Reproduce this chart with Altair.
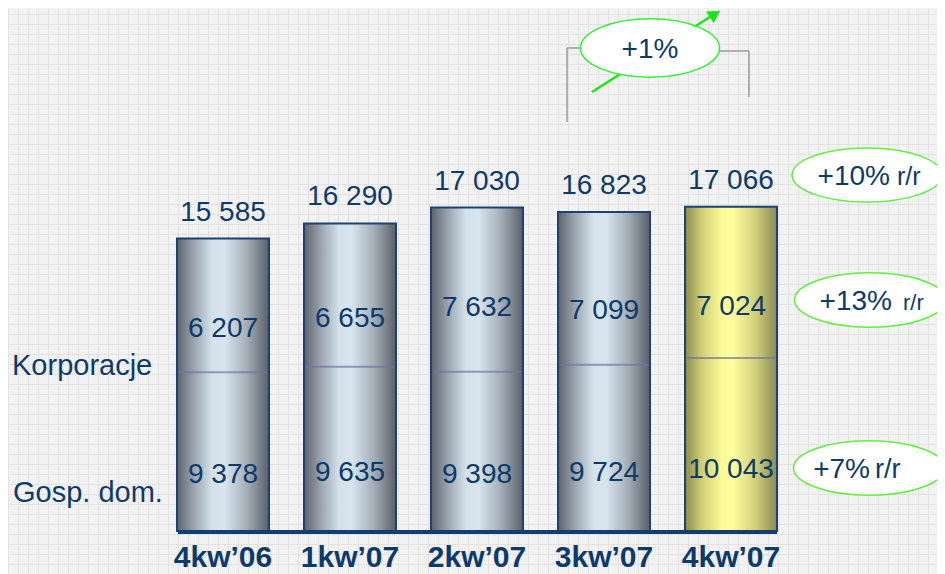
import altair as alt
import pandas as pd

# ---------------- data ----------------
quarters = ["4kw’06", "1kw’07", "2kw’07", "3kw’07", "4kw’07"]
households = [9378, 9635, 9398, 9724, 10043]
corporates = [6207, 6655, 7632, 7099, 7024]
totals = [15585, 16290, 17030, 16823, 17066]
segment_names = ["Korporacje", "Gosp. dom."]
yoy_main = ["+10%", "+13%", "+7%"]
yoy_suffix = "r/r"
qoq_label = "+1%"

NAVY = "#0d3a6a"
FONT = "Liberation Sans"
GREEN = "#5ff03f"
GRIDC = "#e2e2e2"
W, H = 929, 566          # whole drawing area
PLOT_B = 523             # baseline of the bars inside it
Y0, YMAX = 2000, 26300


def fmt(v):
    return f"{v:,}".replace(",", " ")


df = pd.DataFrame({
    "q": quarters,
    "hh": households,
    "corp": corporates,
    "total": totals,
    "hh_t": [fmt(v) for v in households],
    "corp_t": [fmt(v) for v in corporates],
    "total_t": [fmt(v) for v in totals],
    "current": [False, False, False, False, True],
})

GRAY = {"gradient": "linear", "x1": 0, "x2": 1, "y1": 0, "y2": 0,
        "stops": [{"offset": 0, "color": "#5c626b"},
                  {"offset": 0.18, "color": "#9aa4ae"},
                  {"offset": 0.38, "color": "#d3e1ea"},
                  {"offset": 0.52, "color": "#d8e5ee"},
                  {"offset": 0.76, "color": "#a4aeb7"},
                  {"offset": 1, "color": "#5a5f68"}]}
YELLOW = {"gradient": "linear", "x1": 0, "x2": 1, "y1": 0, "y2": 0,
          "stops": [{"offset": 0, "color": "#8b8b4e"},
                    {"offset": 0.18, "color": "#cfce78"},
                    {"offset": 0.4, "color": "#fbfb98"},
                    {"offset": 0.52, "color": "#fdfd9d"},
                    {"offset": 0.76, "color": "#d3d27c"},
                    {"offset": 1, "color": "#8a8a52"}]}

XSCALE = alt.Scale(type="band", domain=quarters, paddingInner=0.2756, paddingOuter=0,
                   range=[169, 769])


def X(show_axis=False):
    if show_axis:
        ax = alt.Axis(title=None, orient="bottom", domain=False, ticks=False, labelAngle=0,
                      labelFont=FONT, labelFontSize=30, labelFontWeight="bold",
                      labelColor=NAVY, labelPadding=11, grid=False, offset=PLOT_B - H)
    else:
        ax = None
    return alt.X("q:N", scale=XSCALE, axis=ax)


YSCALE = alt.Scale(domain=[Y0, YMAX], nice=False, zero=False, range=[PLOT_B, 0])


def Y(field):
    return alt.Y(field, type="quantitative", scale=YSCALE, axis=None)


base = alt.Chart(df)

# background graph-paper grid
gridbg = alt.Chart(pd.DataFrame({"g": [0]})).mark_point(opacity=0).encode(
    x=alt.X("g:Q", scale=alt.Scale(domain=[0, W], range=[0, W], nice=False),
            axis=alt.Axis(title=None, orient="bottom", labels=False, ticks=False,
                          domain=False, grid=True, gridColor=GRIDC, tickCount=90)),
    y=alt.Y("g:Q", scale=alt.Scale(domain=[0, H], range=[H, 0], nice=False),
            axis=alt.Axis(title=None, orient="left", labels=False, ticks=False,
                          domain=False, grid=True, gridColor=GRIDC, tickCount=55)))

bars_gray = base.transform_filter("!datum.current").mark_bar(
    color=GRAY, stroke="#1b4272", strokeWidth=2).encode(
    x=X(True), y=Y("total"), y2=alt.datum(Y0))
bars_yellow = base.transform_filter("datum.current").mark_bar(
    color=YELLOW, stroke="#1b4272", strokeWidth=2).encode(
    x=X(), y=Y("total"), y2=alt.datum(Y0))

dividers = base.mark_tick(color="#7474a6", thickness=2, size=88, orient="horizontal").encode(
    x=X(), y=Y("hh"))

baseline = alt.Chart(pd.DataFrame({"a": [0]})).mark_rule(
    color="#133d6c", strokeWidth=4).encode(
    x=alt.value(170), x2=alt.value(769), y=alt.value(PLOT_B + 1))

txt = dict(font=FONT, fontSize=28, color=NAVY, baseline="middle", align="center")
total_lab = base.mark_text(dy=-26, **txt).encode(x=X(), y=Y("total"), text="total_t:N")
corp_lab = base.transform_calculate(
    corp_pos=f"{Y0} + (datum.total - {Y0}) * 0.69").mark_text(**txt).encode(
    x=X(), y=Y("corp_pos"), text="corp_t:N")
hh_lab = base.transform_calculate(
    hh_pos=f"{Y0} + (datum.hh - {Y0}) * 0.35").mark_text(**txt).encode(
    x=X(), y=Y("hh_pos"), text="hh_t:N")


def deco_text(text, x, y, size, align="center", baseline="middle"):
    return alt.Chart(pd.DataFrame({"t": [text]})).mark_text(
        font=FONT, fontSize=size, color=NAVY, align=align, baseline=baseline).encode(
        text="t:N", x=alt.value(x), y=alt.value(y))


def deco_line(x1, y1, x2, y2, color, width):
    return alt.Chart(pd.DataFrame({"a": [0]})).mark_rule(
        color=color, strokeWidth=width).encode(
        x=alt.value(x1), x2=alt.value(x2), y=alt.value(y1), y2=alt.value(y2))


def ellipse(cx, cy, w, ratio, stroke=GREEN):
    path = f"M -1 0 A 1 {ratio} 0 1 1 1 0 A 1 {ratio} 0 1 1 -1 0 Z"
    return alt.Chart(pd.DataFrame({"a": [0]})).mark_point(
        shape=path, size=w * w, filled=True, fill="white", stroke=stroke,
        strokeWidth=1.5, opacity=1, fillOpacity=1).encode(
        x=alt.value(cx), y=alt.value(cy))


left_labels = [
    deco_text(segment_names[0], 4, 358, 29, align="left"),
    deco_text(segment_names[1], 5, 485, 29, align="left"),
]

# q/q annotation
qoq = [
    deco_line(559, 114, 559, 40, "#9a9a9a", 1.5),
    deco_line(559, 40, 576, 40, "#9a9a9a", 1.5),
    deco_line(708, 43, 741, 43, "#9a9a9a", 1.5),
    deco_line(741, 43, 741, 89, "#9a9a9a", 1.5),
    deco_line(584, 84, 705, 7, "#16e816", 2.5),
    alt.Chart(pd.DataFrame({"a": [0]})).mark_point(
        shape="triangle-up", angle=57, size=200, filled=True, color="#16e816", opacity=1).encode(
        x=alt.value(707), y=alt.value(6)),
    ellipse(642, 40, 139, 0.42, stroke="#33f033"),
    deco_text(qoq_label, 642, 42, 28),
]

# y/y annotations
yoy = [
    ellipse(859, 167, 150, 0.36),
    ellipse(862, 292, 151, 0.36),
    ellipse(861, 460, 151, 0.36),
    deco_text(yoy_main[0], 882, 177, 28, align="right", baseline="alphabetic"),
    deco_text(yoy_suffix, 889, 177, 25, align="left", baseline="alphabetic"),
    deco_text(yoy_main[1], 884, 302, 28, align="right", baseline="alphabetic"),
    deco_text(yoy_suffix, 895, 302, 22, align="left", baseline="alphabetic"),
    deco_text(yoy_main[2], 862, 470, 28, align="right", baseline="alphabetic"),
    deco_text(yoy_suffix, 867, 470, 27, align="left", baseline="alphabetic"),
]

chart = alt.layer(
    gridbg, bars_gray, bars_yellow, dividers, baseline,
    total_lab, corp_lab, hh_lab, *left_labels, *qoq, *yoy
).resolve_scale(x="independent", y="independent").properties(
    width=W, height=H,
    autosize=alt.AutoSizeParams(type="none"),
    padding={"left": 0, "top": 0, "right": 0, "bottom": 0},
    background="#f2f2f2",
).configure_view(stroke=None)

chart.save("out.html", embed_options={"renderer": "svg", "actions": False})
